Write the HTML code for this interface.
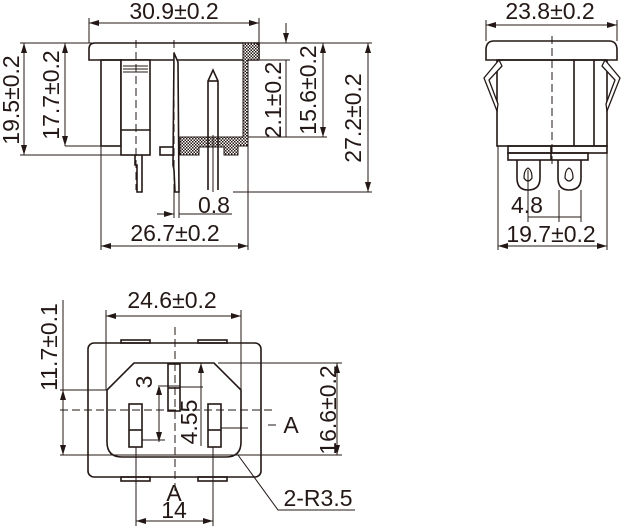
<!DOCTYPE html>
<html><head><meta charset="utf-8"><style>
html,body{margin:0;padding:0;background:#fff;}
svg{display:block;}
text{font-family:"Liberation Sans",sans-serif;font-size:23px;fill:#231815;}
</style></head><body>
<svg width="623" height="526" viewBox="0 0 623 526" xmlns="http://www.w3.org/2000/svg">
<defs>
<pattern id="h" width="3" height="3" patternUnits="userSpaceOnUse">
<rect width="3" height="3" fill="#fff"/><rect width="1.5" height="1.5" fill="#231815"/><rect x="1.5" y="1.5" width="1.5" height="1.5" fill="#231815"/>
</pattern>
<marker id="a" viewBox="0 0 10 6" refX="10" refY="3" markerWidth="10" markerHeight="6" orient="auto-start-reverse" markerUnits="userSpaceOnUse"><path d="M0,0 L10,3 L0,6 Z" fill="#231815"/></marker>
</defs>
<g stroke="#231815" fill="none" stroke-width="1">
<line x1="20" y1="43" x2="372" y2="43"/>
<line x1="20" y1="155" x2="122" y2="155"/>
<line x1="65" y1="146" x2="101" y2="146"/>
<line x1="260" y1="60" x2="290" y2="60"/>
<line x1="248" y1="137" x2="327" y2="137"/>
<line x1="233" y1="192" x2="372" y2="192"/>
<line x1="89" y1="18" x2="89" y2="43"/>
<line x1="259" y1="18" x2="259" y2="43"/>
<line x1="101" y1="146" x2="101" y2="250"/>
<line x1="248" y1="146" x2="248" y2="250"/>
<line x1="174" y1="192" x2="174" y2="218"/>
<line x1="179" y1="192" x2="179" y2="218"/>
<line x1="89" y1="23" x2="259" y2="23" marker-start="url(#a)" marker-end="url(#a)"/>
<line x1="24" y1="43" x2="24" y2="155" marker-start="url(#a)" marker-end="url(#a)"/>
<line x1="65" y1="43" x2="65" y2="146" marker-start="url(#a)" marker-end="url(#a)"/>
<line x1="286" y1="23" x2="286" y2="43" marker-end="url(#a)"/>
<line x1="286" y1="60" x2="286" y2="137"/>
<line x1="323" y1="43" x2="323" y2="137" marker-start="url(#a)" marker-end="url(#a)"/>
<line x1="368" y1="43" x2="368" y2="192" marker-start="url(#a)" marker-end="url(#a)"/>
<line x1="157" y1="214" x2="174" y2="214" marker-end="url(#a)"/>
<line x1="179" y1="214" x2="232" y2="214"/>
<line x1="101" y1="246" x2="248" y2="246" marker-start="url(#a)" marker-end="url(#a)"/>
</g>
<g stroke="#231815" stroke-width="1.6" fill="none">
<path d="M95,43 L259,43 L259,60 L89,60 L89,49 Q89,43 95,43 Z" fill="#fff"/>
<path d="M243,43 L254,43 Q259,43 259,48 L259,60 L248,60 L248,146 L238,146 L238,155 L224,155 L224,147 L199,147 L199,155 L180,155 L180,137 L243,137 Z" fill="url(#h)" stroke-width="1"/>
<rect x="101" y="60" width="20" height="86"/>
<rect x="121" y="60" width="29" height="95" fill="#fff"/>
<line x1="121" y1="130" x2="150" y2="130"/>
<rect x="160" y="147" width="14" height="8"/>
<path d="M135,155 L135,165 L137,165 L137,192 L142,192 L142,155"/>
<path d="M174,53 L178,62 L179,192 L175,192 L174,170 L173,165 Z" fill="#fff"/>
<path d="M208,190 L208,81 L213,70 L218,81 L218,190"/>
<line x1="208" y1="81" x2="218" y2="81"/>
</g>
<g stroke="#231815" stroke-width="1">
<line x1="123" y1="66" x2="148" y2="66"/><line x1="123" y1="69" x2="148" y2="69"/><line x1="123" y1="72" x2="148" y2="72"/>
<line x1="136" y1="40" x2="136" y2="190" stroke-dasharray="8,4"/>
<line x1="174" y1="40" x2="174" y2="192" stroke-dasharray="8,4"/>
<line x1="213" y1="135" x2="213" y2="192"/>
</g>

<g stroke="#231815" fill="none" stroke-width="1">
<line x1="486" y1="20" x2="486" y2="41"/>
<line x1="617" y1="20" x2="617" y2="41"/>
<line x1="486" y1="25" x2="617" y2="25" marker-start="url(#a)" marker-end="url(#a)"/>
<line x1="498" y1="146" x2="498" y2="250"/>
<line x1="607" y1="146" x2="607" y2="250"/>
<line x1="498" y1="246" x2="607" y2="246" marker-start="url(#a)" marker-end="url(#a)"/>
<line x1="528" y1="170" x2="528" y2="222"/>
<line x1="559" y1="190" x2="559" y2="222"/>
<line x1="581" y1="190" x2="581" y2="222"/>
<line x1="528" y1="217" x2="581" y2="217"/>
<line x1="552" y1="36" x2="552" y2="165" stroke-dasharray="8,4"/>
</g>
<g stroke="#231815" stroke-width="1.6" fill="none">
<path d="M494,41 L609,41 Q617,41 617,50 L617,60 L486,60 L486,50 Q486,41 494,41 Z"/>
<rect x="497" y="60" width="110" height="86"/>
<line x1="574" y1="60" x2="574" y2="146"/>
<line x1="594" y1="60" x2="594" y2="146"/>
<path d="M499,60 L484,78 L497,111 L498,104 L489,80 L502,66 Z" fill="#fff" stroke-width="1.3"/>
<path d="M605,60 L620,78 L607,111 L606,104 L615,80 L602,66 Z" fill="#fff" stroke-width="1.3"/>
<rect x="508" y="146" width="99" height="7"/>
<rect x="508" y="153" width="80" height="7"/>
<line x1="551" y1="146" x2="551" y2="160"/>
<path d="M517,160 L517,178 Q517,190 528,190 Q540,190 540,178 L540,160"/>
<path d="M558,160 L558,178 Q558,190 569,190 Q581,190 581,178 L581,160"/>
<path d="M524,178 Q524,170 528,168 Q532,170 532,178 Q528,184 524,178 Z" stroke-width="1.2"/>
<path d="M565,178 Q565,170 569,168 Q573,170 573,178 Q569,184 565,178 Z" stroke-width="1.2"/>
</g>

<g stroke="#231815" fill="none" stroke-width="1">
<line x1="106" y1="310" x2="106" y2="390"/>
<line x1="241" y1="310" x2="241" y2="390"/>
<line x1="106" y1="316" x2="241" y2="316" marker-start="url(#a)" marker-end="url(#a)"/>
<line x1="60" y1="390" x2="107" y2="390"/>
<line x1="60" y1="455" x2="342" y2="455"/>
<line x1="218" y1="363" x2="342" y2="363"/>
<line x1="63" y1="300" x2="63" y2="390"/>
<line x1="63" y1="390" x2="63" y2="455" marker-start="url(#a)" marker-end="url(#a)"/>
<line x1="337" y1="363" x2="337" y2="455" marker-start="url(#a)" marker-end="url(#a)"/>
<line x1="60" y1="410" x2="276" y2="410" stroke-dasharray="8,4"/>
<line x1="175" y1="327" x2="175" y2="492" stroke-dasharray="8,4"/>
<line x1="159" y1="385" x2="159" y2="442" marker-start="url(#a)" marker-end="url(#a)"/>
<line x1="142" y1="440" x2="165" y2="440"/>
<line x1="160" y1="386" x2="180" y2="386"/>
<line x1="201" y1="363" x2="201" y2="378" marker-start="url(#a)"/>
<line x1="201" y1="378" x2="201" y2="446"/>
<line x1="180" y1="387" x2="203" y2="387"/>
<line x1="221" y1="428" x2="248" y2="428"/>
<line x1="136" y1="447" x2="136" y2="526"/>
<line x1="213" y1="447" x2="213" y2="526"/>
<line x1="136" y1="521" x2="213" y2="521" marker-start="url(#a)" marker-end="url(#a)"/>
<polyline points="238,455 278,510 355,510"/>
<line x1="268" y1="425" x2="276" y2="425"/>
</g>
<g stroke="#231815" stroke-width="1.6" fill="none">
<rect x="88" y="343" width="173" height="134" rx="6"/>
<rect x="121" y="340" width="29" height="3"/><rect x="198" y="340" width="29" height="3"/>
<rect x="121" y="477" width="29" height="4"/><rect x="198" y="477" width="29" height="4"/>
<path d="M134,363 L214,363 L241,390 L241,442 Q241,457 226,457 L122,457 Q107,457 107,442 L107,390 Z"/>
<rect x="168" y="364" width="12" height="47"/>
<rect x="129" y="404" width="13" height="43"/>
<rect x="208" y="404" width="13" height="43"/>
<line x1="129" y1="430" x2="142" y2="430"/>
<line x1="208" y1="430" x2="221" y2="430"/>
<line x1="168" y1="388" x2="180" y2="388"/>
</g>

<text x="174" y="19" text-anchor="middle">30.9±0.2</text>
<text transform="translate(19,100) rotate(-90)" text-anchor="middle">19.5±0.2</text>
<text transform="translate(59,95) rotate(-90)" text-anchor="middle">17.7±0.2</text>
<text transform="translate(281,100) rotate(-90)" text-anchor="middle">2.1±0.2</text>
<text transform="translate(316,90) rotate(-90)" text-anchor="middle">15.6±0.2</text>
<text transform="translate(361,118) rotate(-90)" text-anchor="middle">27.2±0.2</text>
<text x="214" y="213" text-anchor="middle">0.8</text>
<text x="175" y="241" text-anchor="middle">26.7±0.2</text>
<text x="550" y="19" text-anchor="middle">23.8±0.2</text>
<text x="527" y="213" text-anchor="middle">4.8</text>
<text x="551" y="242" text-anchor="middle">19.7±0.2</text>
<text x="172" y="308" text-anchor="middle">24.6±0.2</text>
<text transform="translate(57,347) rotate(-90)" text-anchor="middle">11.7±0.1</text>
<text transform="translate(152,382) rotate(-90)" text-anchor="middle">3</text>
<text transform="translate(197,422) rotate(-90)" text-anchor="middle">4.55</text>
<text transform="translate(336,410) rotate(-90)" text-anchor="middle">16.6±0.2</text>
<text x="291" y="433" text-anchor="middle">A</text>
<text x="174" y="501" text-anchor="middle">A</text>
<text x="174" y="518" text-anchor="middle">14</text>
<text x="318" y="506" text-anchor="middle">2-R3.5</text>
</svg>
</body></html>
